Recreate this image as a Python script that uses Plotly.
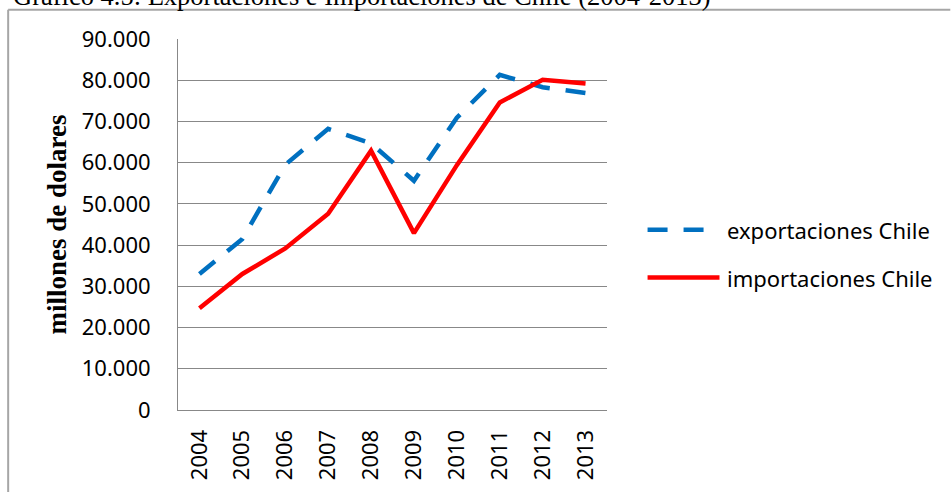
import plotly.graph_objects as go

years = ["2004", "2005", "2006", "2007", "2008", "2009", "2010", "2011", "2012", "2013"]
exportaciones = [33000, 41500, 59500, 68200, 64700, 55600, 70900, 81300, 78300, 76900]
importaciones = [24700, 33000, 39200, 47600, 62900, 42900, 59400, 74600, 80100, 79200]
y_ticks = [0, 10000, 20000, 30000, 40000, 50000, 60000, 70000, 80000, 90000]

title_text = "Gráfico 4.5: Exportaciones e Importaciones de Chile (2004-2013)"
y_title = "millones de dolares"
name_exp = "exportaciones Chile"
name_imp = "importaciones Chile"

BLUE = "#0070C0"
RED = "#FF0000"
GRID = "#888888"
BORDER = "#A6A6A6"
TICK_FONT = dict(family="Noto Sans", size=22, color="#000000")

exp_line = dict(color=BLUE, width=4.5, dash="20px,16px")
imp_line = dict(color=RED, width=4.5)

fig = go.Figure()
fig.add_trace(go.Scatter(x=years, y=exportaciones, mode="lines", name=name_exp,
                         line=exp_line, showlegend=False))
fig.add_trace(go.Scatter(x=years, y=importaciones, mode="lines", name=name_imp,
                         line=imp_line, showlegend=False))

# plot area in pixels: x 178..607.4, y 39.3..410
L, R, T, B = 178, 607.4, 39.3, 410
W, H = R - L, B - T


def px(x):
    return (x - L) / W


def py(y):
    return (B - y) / H


shapes = [
    # outer frame (top and left edges visible)
    dict(type="line", xref="paper", yref="paper", x0=px(8), x1=px(951), y0=py(10), y1=py(10),
         line=dict(color=BORDER, width=2), layer="above"),
    dict(type="line", xref="paper", yref="paper", x0=px(8), x1=px(8), y0=py(10), y1=py(492),
         line=dict(color=BORDER, width=2), layer="above"),
    # legend samples
    dict(type="line", xref="paper", yref="paper", x0=px(648), x1=px(720), y0=py(230), y1=py(230),
         line=exp_line),
    dict(type="line", xref="paper", yref="paper", x0=px(648), x1=px(720), y0=py(277.7), y1=py(277.7),
         line=imp_line),
]

annotations = [
    dict(text=title_text, xref="paper", yref="paper", x=px(11), y=py(13),
         xanchor="left", yanchor="bottom", showarrow=False,
         font=dict(family="Liberation Serif", size=26.5, color="#000000")),
    dict(text=name_exp, xref="paper", yref="paper", x=px(726), y=py(230),
         xanchor="left", yanchor="middle", showarrow=False, font=TICK_FONT),
    dict(text=name_imp, xref="paper", yref="paper", x=px(726), y=py(277.7),
         xanchor="left", yanchor="middle", showarrow=False, font=TICK_FONT),
]

fig.update_layout(
    width=952, height=493,
    margin=dict(l=L, r=952 - R, t=T, b=493 - B, autoexpand=False),
    paper_bgcolor="white", plot_bgcolor="white",
    separators=",.",
    showlegend=False,
    shapes=shapes,
    annotations=annotations,
    xaxis=dict(type="category", range=[-0.5, 9.5], showgrid=False,
               showline=True, linecolor=GRID, linewidth=1, ticks="",
               tickangle=-90, tickfont=TICK_FONT, ticklabelstandoff=10,
               fixedrange=True),
    yaxis=dict(range=[0, 90000], tickvals=y_ticks, tickformat=",d",
               showgrid=True, gridcolor=GRID, gridwidth=1,
               showline=True, linecolor=GRID, linewidth=1, ticks="",
               tickfont=TICK_FONT, ticklabelstandoff=22, zeroline=False,
               title=dict(text=y_title, standoff=7,
                          font=dict(family="Liberation Serif", size=27, color="#000000",
                                    weight="bold")),
               fixedrange=True),
)

fig.write_html(
    "out.html",
    config={"displayModeBar": False},
    post_script="document.body.style.margin='0';document.body.style.overflow='hidden';",
)
